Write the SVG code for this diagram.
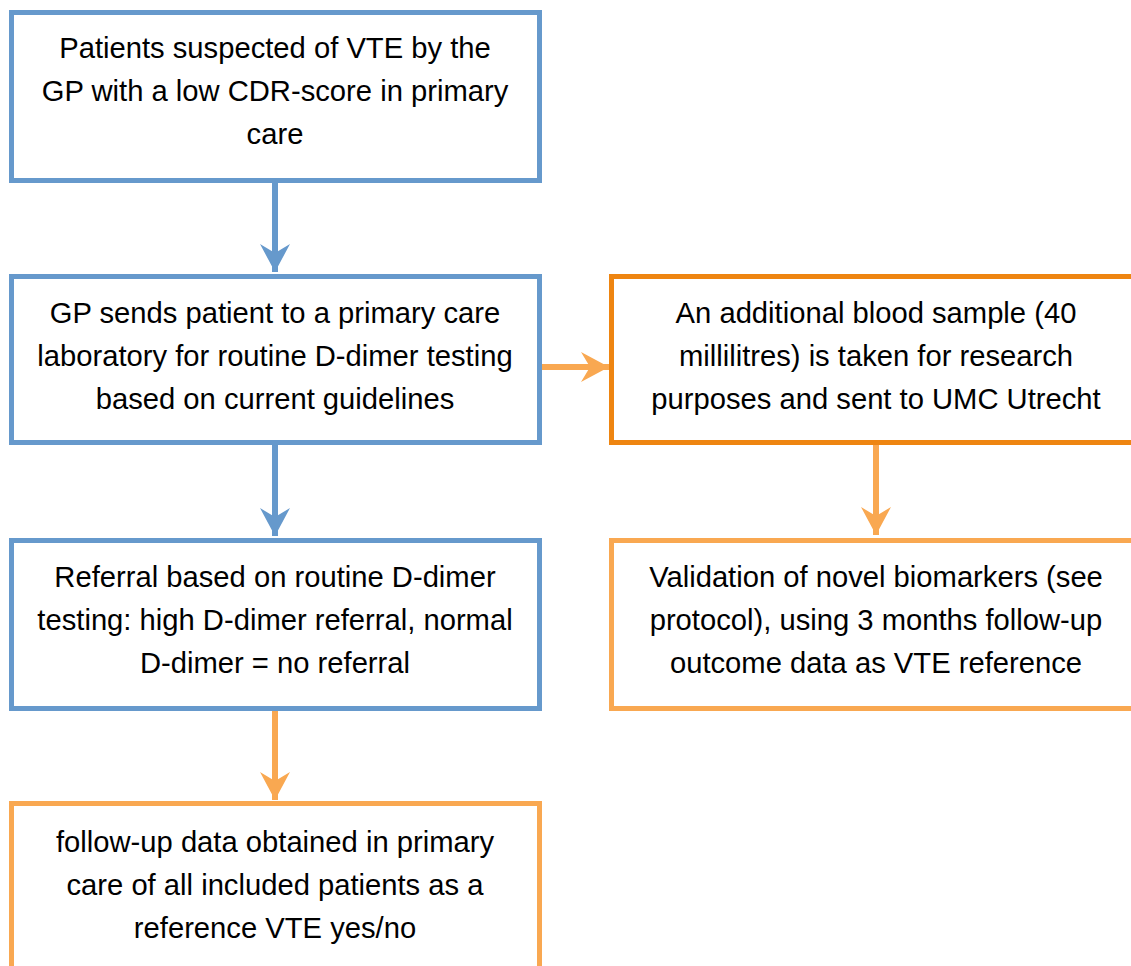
<svg xmlns="http://www.w3.org/2000/svg" width="1131" height="966" viewBox="0 0 1131 966">
<style>
.box{fill:#fff;stroke-width:5}
.blue{stroke:#6699CC}
.dor{stroke:#EE8511}
.lor{stroke:#F9A851}
text{font-family:"Liberation Sans",Arial,sans-serif;font-size:29.2px;fill:#000;text-anchor:middle}
.sh{fill:none;stroke-width:6}
</style>
<defs>
<marker id="ab" viewBox="0 0 30 30" refX="28" refY="15" markerWidth="30" markerHeight="30" markerUnits="userSpaceOnUse" orient="auto">
<path d="M0,0 L28,15 L0,30 L9,15 Z" fill="#6699CC"/>
</marker>
<marker id="ao" viewBox="0 0 30 30" refX="28" refY="15" markerWidth="30" markerHeight="30" markerUnits="userSpaceOnUse" orient="auto">
<path d="M0,0 L28,15 L0,30 L9,15 Z" fill="#F9A851"/>
</marker>
</defs>
<g id="connectors">
<line class="sh" stroke="#6699CC" x1="275" y1="180" x2="275" y2="272" marker-end="url(#ab)"/>
<line class="sh" stroke="#6699CC" x1="275" y1="443" x2="275" y2="536" marker-end="url(#ab)"/>
<line class="sh" stroke="#F9A851" x1="275" y1="709" x2="275" y2="800" marker-end="url(#ao)"/>
<line class="sh" stroke="#F9A851" x1="540" y1="367" x2="609" y2="367" marker-end="url(#ao)"/>
<line class="sh" stroke="#F9A851" x1="876" y1="440" x2="876" y2="535" marker-end="url(#ao)"/>
</g>
<g id="n1">
<rect class="box blue" x="11.5" y="12.5" width="528" height="168"/>
<text x="275" y="58">Patients suspected of VTE by the</text>
<text x="275" y="101">GP with a low CDR-score in primary</text>
<text x="275" y="144">care</text>
</g>
<g id="n2">
<rect class="box blue" x="11.5" y="276.5" width="528" height="166"/>
<text x="275" y="323">GP sends patient to a primary care</text>
<text x="275" y="366">laboratory for routine D-dimer testing</text>
<text x="275" y="409">based on current guidelines</text>
</g>
<g id="n3">
<rect class="box dor" x="611.5" y="276.5" width="540" height="166"/>
<text x="876" y="323">An additional blood sample (40</text>
<text x="876" y="366">millilitres) is taken for research</text>
<text x="876" y="409">purposes and sent to UMC Utrecht</text>
</g>
<g id="n4">
<rect class="box blue" x="11.5" y="540.5" width="528" height="168"/>
<text x="275" y="587">Referral based on routine D-dimer</text>
<text x="275" y="630">testing: high D-dimer referral, normal</text>
<text x="275" y="673">D-dimer = no referral</text>
</g>
<g id="n5">
<rect class="box lor" x="611.5" y="540.5" width="540" height="168"/>
<text x="876" y="587">Validation of novel biomarkers (see</text>
<text x="876" y="630">protocol), using 3 months follow-up</text>
<text x="876" y="673">outcome data as VTE reference</text>
</g>
<g id="n6">
<rect class="box lor" x="11.5" y="803.5" width="528" height="190"/>
<text x="275" y="852">follow-up data obtained in primary</text>
<text x="275" y="895">care of all included patients as a</text>
<text x="275" y="938">reference VTE yes/no</text>
</g>
</svg>
